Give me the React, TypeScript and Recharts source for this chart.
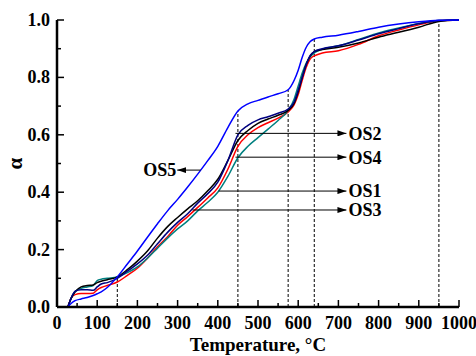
import React from "react";
import { LineChart, Line, XAxis, YAxis, ReferenceLine, ReferenceDot } from "recharts";

const temps = [27, 35, 45, 60, 75, 90, 100, 110, 125, 150, 175, 200, 225, 250, 275, 300, 325, 350, 375, 400, 425, 450, 475, 500, 525, 550, 575, 590, 600, 610, 620, 630, 640, 660, 700, 750, 800, 850, 900, 950, 1000];

const os1 = [0, 0.03, 0.053, 0.07, 0.075, 0.077, 0.085, 0.09, 0.095, 0.105, 0.13, 0.16, 0.195, 0.24, 0.28, 0.312, 0.342, 0.37, 0.405, 0.445, 0.51, 0.58, 0.615, 0.64, 0.655, 0.668, 0.685, 0.71, 0.75, 0.8, 0.845, 0.875, 0.89, 0.897, 0.905, 0.92, 0.94, 0.957, 0.975, 0.995, 1.0];
const os3 = [0, 0.03, 0.043, 0.047, 0.047, 0.048, 0.06, 0.068, 0.075, 0.087, 0.11, 0.135, 0.17, 0.21, 0.245, 0.285, 0.315, 0.347, 0.38, 0.415, 0.48, 0.56, 0.6, 0.625, 0.642, 0.658, 0.68, 0.705, 0.74, 0.79, 0.835, 0.865, 0.875, 0.885, 0.893, 0.915, 0.945, 0.965, 0.983, 0.997, 1.0];
const os2 = [0, 0.03, 0.055, 0.06, 0.06, 0.058, 0.07, 0.08, 0.085, 0.1, 0.125, 0.15, 0.18, 0.22, 0.26, 0.295, 0.325, 0.362, 0.395, 0.435, 0.51, 0.6, 0.633, 0.652, 0.663, 0.675, 0.69, 0.715, 0.755, 0.8, 0.845, 0.877, 0.89, 0.9, 0.91, 0.93, 0.952, 0.97, 0.987, 0.998, 1.0];
const os4 = [0, 0.03, 0.053, 0.065, 0.07, 0.075, 0.092, 0.097, 0.1, 0.105, 0.12, 0.14, 0.17, 0.205, 0.24, 0.272, 0.3, 0.335, 0.365, 0.4, 0.455, 0.52, 0.56, 0.59, 0.62, 0.65, 0.685, 0.725, 0.77, 0.815, 0.85, 0.872, 0.885, 0.898, 0.91, 0.932, 0.955, 0.972, 0.988, 0.998, 1.0];
const os5 = [0, 0.012, 0.022, 0.028, 0.033, 0.04, 0.046, 0.053, 0.068, 0.105, 0.15, 0.195, 0.243, 0.29, 0.335, 0.375, 0.418, 0.463, 0.51, 0.56, 0.625, 0.683, 0.708, 0.72, 0.732, 0.743, 0.757, 0.79, 0.825, 0.87, 0.905, 0.925, 0.934, 0.94, 0.947, 0.96, 0.975, 0.986, 0.994, 0.999, 1.0];

const xTicks = [0, 50, 100, 150, 200, 250, 300, 350, 400, 450, 500, 550, 600, 650, 700, 750, 800, 850, 900, 950, 1000];
const yTicks = [0, 0.1, 0.2, 0.3, 0.4, 0.5, 0.6, 0.7, 0.8, 0.9, 1.0];

// dashed drop lines: temperature and the height they reach
const dropX = [150, 450, 575, 640, 950];
const dropY = [0.105, 0.683, 0.757, 0.934, 1.0];

// arrows pointing right to the series names
const arrowNames = ["OS2", "OS4", "OS1", "OS3"];
const arrowY = [0.605, 0.522, 0.404, 0.338];
const arrowFrom = [444, 444, 402, 337];
const arrowTo = 720;

const data = temps.map((t, i) => ({
  T: t,
  os1: os1[i],
  os2: os2[i],
  os3: os3[i],
  os4: os4[i],
  os5: os5[i],
}));

const FONT = "'Times New Roman', 'Liberation Serif', Tinos, 'DejaVu Serif', serif";

const BottomTick = (props: any) => {
  const { x, y, payload } = props;
  const major = payload.value % 100 === 0;
  return (
    <g>
      <line x1={x} x2={x} y1={y} y2={y - (major ? 7 : 4)} stroke="#000" strokeWidth={1.5} />
      {major && (
        <text x={x} y={y + 22} textAnchor="middle" fontFamily={FONT} fontWeight="bold" fontSize={18} fill="#000">
          {payload.value}
        </text>
      )}
    </g>
  );
};

const LeftTick = (props: any) => {
  const { x, y, payload } = props;
  const major = Math.round(payload.value * 10) % 2 === 0;
  return (
    <g>
      <line x1={x} x2={x + (major ? 7 : 4)} y1={y} y2={y} stroke="#000" strokeWidth={1.5} />
      {major && (
        <text x={x - 7} y={y + 6} textAnchor="end" fontFamily={FONT} fontWeight="bold" fontSize={18} fill="#000">
          {payload.value.toFixed(1)}
        </text>
      )}
    </g>
  );
};

const TopTick = (props: any) => {
  const { x, y } = props;
  return <line x1={x} x2={x} y1={y} y2={y + 2} stroke="#000" strokeWidth={1} />;
};

const RightTick = (props: any) => {
  const { x, y } = props;
  return <line x1={x} x2={x - 2} y1={y} y2={y} stroke="#000" strokeWidth={1} />;
};

const XTitle = (props: any) => {
  const vb = props.viewBox;
  return (
    <text x={vb.x + vb.width / 2} y={351} textAnchor="middle" fontFamily={FONT} fontWeight="bold" fontSize={19} fill="#000">
      Temperature, °C
    </text>
  );
};

const YTitle = (props: any) => {
  const vb = props.viewBox;
  const cy = vb.y + vb.height / 2;
  return (
    <text x={22} y={cy} textAnchor="middle" transform={`rotate(-90, 22, ${cy})`} fontFamily={FONT} fontWeight="bold" fontSize={21} fill="#000">
      α
    </text>
  );
};

const labelStyle = { fill: "#000", fontSize: 18, fontWeight: "bold", fontFamily: FONT };

export default function App() {
  return (
    <div style={{ position: "absolute", left: 0, top: 0, fontFamily: FONT }}>
      <svg width={0} height={0} style={{ position: "absolute" }}>
        <defs>
          <marker id="arrowHead" markerWidth={9} markerHeight={6} refX={9} refY={3} orient="auto" markerUnits="userSpaceOnUse">
            <path d="M0,0 L9,3 L0,6 Z" fill="#000" />
          </marker>
        </defs>
      </svg>
      <LineChart width={476} height={356} data={data} margin={{ top: 20, right: 17, bottom: 0, left: 0 }}>
        <XAxis
          dataKey="T"
          type="number"
          domain={[0, 1000]}
          ticks={xTicks}
          interval={0}
          tickSize={0}
          tickMargin={0}
          tickLine={false}
          tick={<BottomTick />}
          height={49}
          axisLine={{ stroke: "#000", strokeWidth: 2.5 }}
          label={(p: any) => <XTitle {...p} />}
        />
        <XAxis
          xAxisId="top"
          orientation="top"
          type="number"
          domain={[0, 1000]}
          ticks={xTicks}
          interval={0}
          tickSize={0}
          tickMargin={0}
          tickLine={false}
          tick={<TopTick />}
          height={0}
          axisLine={{ stroke: "#000", strokeWidth: 2.5 }}
        />
        <YAxis
          type="number"
          domain={[0, 1]}
          ticks={yTicks}
          interval={0}
          tickSize={0}
          tickMargin={0}
          tickLine={false}
          tick={<LeftTick />}
          width={57}
          axisLine={{ stroke: "#000", strokeWidth: 2.5 }}
          label={(p: any) => <YTitle {...p} />}
        />
        <YAxis
          yAxisId="right"
          orientation="right"
          type="number"
          domain={[0, 1]}
          ticks={yTicks}
          interval={0}
          tickSize={0}
          tickMargin={0}
          tickLine={false}
          tick={<RightTick />}
          width={0}
          axisLine={{ stroke: "#000", strokeWidth: 2.5 }}
        />

        {dropX.map((x, i) => (
          <ReferenceLine
            key={"d" + x}
            segment={[{ x, y: 0 }, { x, y: dropY[i] }]}
            stroke="#000"
            strokeWidth={1}
            strokeDasharray="3 2"
          />
        ))}

        <Line type="monotone" dataKey="os3" stroke="#ff0000" strokeWidth={1.5} dot={false} isAnimationActive={false} />
        <Line type="monotone" dataKey="os4" stroke="#008080" strokeWidth={1.5} dot={false} isAnimationActive={false} />
        <Line type="monotone" dataKey="os1" stroke="#000000" strokeWidth={1.5} dot={false} isAnimationActive={false} />
        <Line type="monotone" dataKey="os2" stroke="#000080" strokeWidth={1.5} dot={false} isAnimationActive={false} />
        <Line type="monotone" dataKey="os5" stroke="#0000ff" strokeWidth={1.5} dot={false} isAnimationActive={false} />

        {arrowNames.map((name, i) => (
          <ReferenceLine
            key={"a" + name}
            segment={[{ x: arrowFrom[i], y: arrowY[i] }, { x: arrowTo, y: arrowY[i] }]}
            stroke="#000"
            strokeWidth={1}
            markerEnd="url(#arrowHead)"
          />
        ))}
        {arrowNames.map((name, i) => (
          <ReferenceDot
            key={"t" + name}
            x={arrowTo}
            y={arrowY[i]}
            r={0}
            stroke="none"
            label={{ value: name, position: "right", offset: 2, ...labelStyle }}
          />
        ))}

        <ReferenceLine
          segment={[{ x: 357, y: 0.477 }, { x: 299, y: 0.477 }]}
          stroke="#000"
          strokeWidth={1}
          markerEnd="url(#arrowHead)"
        />
        <ReferenceDot
          x={299}
          y={0.477}
          r={0}
          stroke="none"
          label={{ value: "OS5", position: "left", offset: 1, ...labelStyle }}
        />
      </LineChart>
    </div>
  );
}
